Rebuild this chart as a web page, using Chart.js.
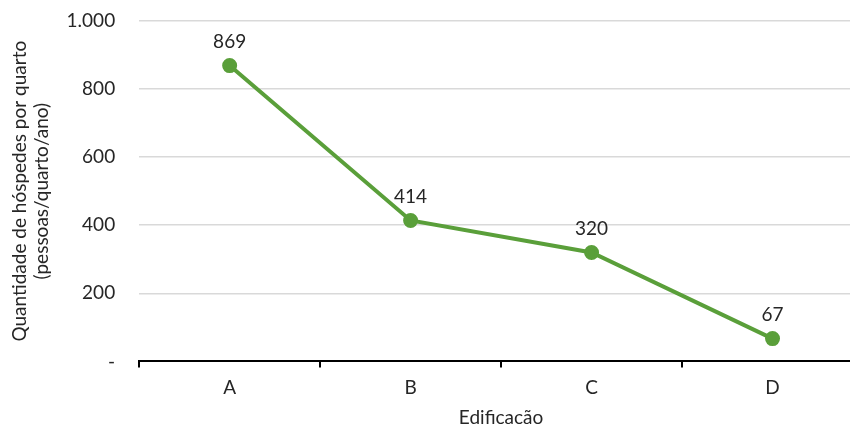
<!DOCTYPE html>
<html>
<head>
<meta charset="utf-8">
<script src="https://cdn.jsdelivr.net/npm/chart.js@4/dist/chart.umd.min.js"></script>
<style>
  html, body { margin: 0; padding: 0; background: #fff; overflow: hidden; }
  #wrap { width: 850px; height: 426px; overflow: hidden; }
  canvas { display: block; }
</style>
</head>
<body>
<div id="wrap"><canvas id="c" width="880" height="426"></canvas></div>
<script>
// Guests per room by building
const buildings = ['A', 'B', 'C', 'D'];
const guestsPerRoom = [869, 414, 320, 67];
const yTicks = [0, 200, 400, 600, 800, 1000];

const FONT = 'Lato, "Open Sans", sans-serif';
const FS = 19;
const GREEN = '#5A9F3A';
const TEXT = '#262626';

function fmtTick(v) {
  if (v === 0) return '-';
  return v.toLocaleString('de-DE');
}

// Draws each point's value centred above its marker
const valueLabels = {
  id: 'valueLabels',
  afterDatasetsDraw(chart) {
    const ctx = chart.ctx;
    const meta = chart.getDatasetMeta(0);
    const data = chart.data.datasets[0].data;
    ctx.save();
    ctx.font = FS + 'px ' + FONT;
    ctx.fillStyle = TEXT;
    ctx.textAlign = 'center';
    ctx.textBaseline = 'middle';
    meta.data.forEach((pt, i) => {
      ctx.fillText(String(data[i]), pt.x, pt.y - 24);
    });
    ctx.restore();
  }
};

new Chart(document.getElementById('c'), {
  type: 'line',
  data: {
    labels: buildings,
    datasets: [{
      data: guestsPerRoom,
      borderColor: GREEN,
      backgroundColor: GREEN,
      borderWidth: 4,
      pointRadius: 5.5,
      pointHoverRadius: 5.5,
      pointBackgroundColor: GREEN,
      pointBorderColor: GREEN,
      tension: 0
    }]
  },
  options: {
    responsive: false,
    animation: false,
    devicePixelRatio: 1,
    layout: { padding: { top: 21, right: 17, bottom: -3, left: 0 } },
    plugins: {
      legend: { display: false },
      tooltip: { enabled: false }
    },
    scales: {
      x: {
        offset: true,
        grid: {
          offset: true,
          drawOnChartArea: false,
          drawTicks: true,
          tickLength: 6,
          color: '#000',
          lineWidth: 2
        },
        border: { display: true, color: '#000', width: 2 },
        ticks: { color: TEXT, font: { family: FONT, size: FS }, padding: 9 },
        title: {
          display: true,
          text: 'Edificacão',
          color: TEXT,
          font: { family: FONT, size: FS },
          padding: { top: -2, bottom: 0 }
        }
      },
      y: {
        min: 0,
        max: 1000,
        afterBuildTicks(scale) {
          scale.ticks = yTicks.map(v => ({ value: v }));
        },
        ticks: {
          color: TEXT,
          font: { family: FONT, size: FS },
          padding: 0,
          callback: (v) => fmtTick(v)
        },
        grid: {
          color: (c) => c.tick && c.tick.value === 0 ? 'rgba(0,0,0,0)' : '#D9D9D9',
          lineWidth: 1.5,
          drawTicks: true,
          tickLength: 24,
          tickColor: 'rgba(0,0,0,0)'
        },
        border: { display: false },
        title: {
          display: true,
          text: ['Quantidade de hóspedes por quarto', '(pessoas/quarto/ano)'],
          color: TEXT,
          font: { family: FONT, size: FS, lineHeight: 1.2 },
          padding: { top: 8, bottom: 13 }
        }
      }
    }
  },
  plugins: [valueLabels]
});
</script>
</body>
</html>
